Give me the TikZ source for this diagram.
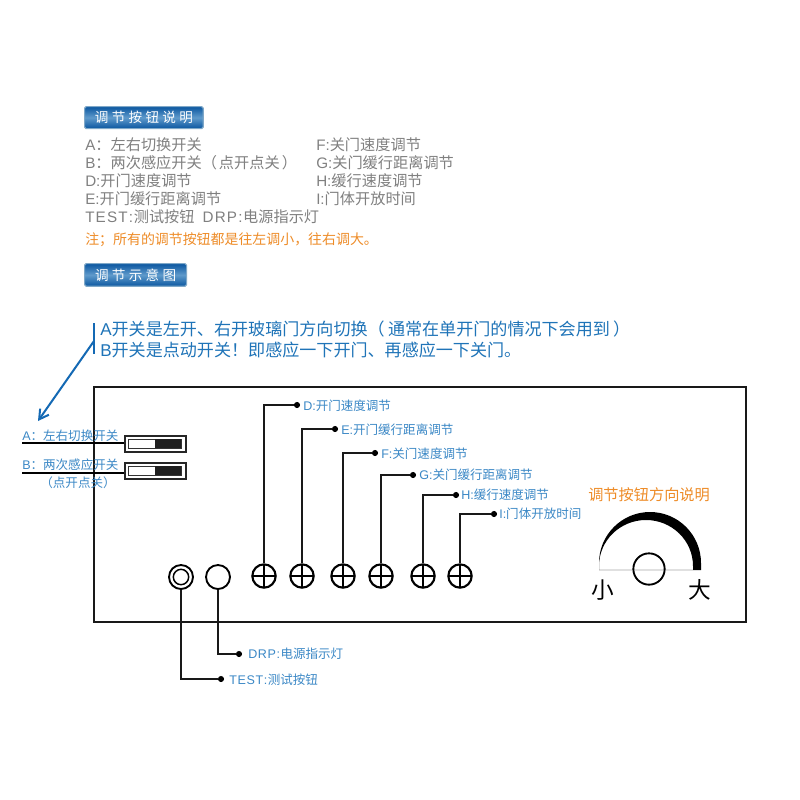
\documentclass[tikz,border=0pt]{standalone}
\usepackage{fontspec}
\setmainfont{Noto Sans CJK SC}
\newfontfamily\ltn{Liberation Sans}
\newfontfamily\hdrfont[LetterSpace=24]{Noto Sans CJK SC}
\newcommand{\LT}[1]{{\ltn #1}}
\newcommand{\TESTW}{{\ltn T\kern.9pt E\kern.9pt S\kern.9pt T\kern.9pt:\kern.5pt}}
\newcommand{\DRPW}{{\ltn D\kern.9pt R\kern.9pt P\kern.9pt:\kern.5pt}}
\newcommand{\TESTS}{{\ltn T\kern.5pt E\kern.5pt S\kern.5pt T\kern.5pt:\kern.3pt}}
\newcommand{\DRPS}{{\ltn D\kern.5pt R\kern.5pt P\kern.5pt:\kern.3pt}}
\usetikzlibrary{arrows.meta}
\definecolor{txtgray}{HTML}{808080}
\definecolor{txtblue}{HTML}{1F74B8}
\definecolor{lblblue}{HTML}{3B88C6}
\definecolor{txtorange}{HTML}{EE8C28}
\definecolor{arrowblue}{HTML}{1469B4}
\definecolor{hdrdark}{HTML}{0A56A0}
\definecolor{hdrmid}{HTML}{5F9ACB}
\definecolor{hdredge}{HTML}{7FA8C8}
\tikzset{
  x=0.75pt,y=-0.75pt,
  wire/.style={line width=1.8pt,black!90},
  headbar/.style={draw=hdredge,line width=0.9pt,rounded corners=1.2pt,anchor=north west,inner sep=0pt,
    top color=hdrdark,bottom color=hdrdark,middle color=hdrmid,
    text=white,font=\hdrfont\fontsize{10.2pt}{10.5pt}\selectfont},
  infotext/.style={anchor=west,inner sep=0pt,text=txtgray,font=\fontsize{11.4pt}{12pt}\selectfont},
  notetext/.style={anchor=west,inner sep=0pt,text=txtorange,font=\fontsize{10.45pt}{12pt}\selectfont},
  bluetext/.style={anchor=west,inner sep=0pt,text=txtblue,font=\fontsize{12.8pt}{14pt}\selectfont},
  lbl/.style={anchor=west,inner sep=0pt,text=lblblue,font=\fontsize{9.4pt}{10pt}\selectfont},
  dotnode/.style={circle,fill=black,inner sep=0pt,minimum size=4.6pt},
  plusbtn/.style={circle,draw=black,line width=1.6pt,fill=white,inner sep=0pt,minimum size=17.5pt,
    path picture={\draw[line width=1.5pt,black] (path picture bounding box.west)--(path picture bounding box.east)
      (path picture bounding box.north)--(path picture bounding box.south);}},
  roundbtn/.style={circle,draw=black,line width=1.4pt,fill=white,inner sep=0pt,minimum size=18pt},
  bigchar/.style={inner sep=0pt,text=black,font=\fontsize{17pt}{18pt}\selectfont},
  swouter/.style={draw=black!85,line width=1.4pt,fill=white,anchor=north west,inner sep=0pt,minimum width=45.5pt,minimum height=12pt},
}
\begin{document}
\begin{tikzpicture}
\useasboundingbox (0,0) rectangle (800,800);
\fill[white] (0,0) rectangle (800,800);

% header bars
\node[headbar,minimum width=89pt,minimum height=16.5pt] (h1) at (84,106) {调节按钮说明};
\node[headbar,minimum width=76.5pt,minimum height=17pt] (h2) at (84,263) {调节示意图};

% info text
\node[infotext] (t1) at (85,145) {\LT{A}：左右切换开关};
\node[infotext] (t2) at (85,163) {\LT{B}：两次感应开关（\kern1.5pt 点开点关\kern1.5pt）};
\node[infotext] (t3) at (85,181) {\LT{D:}开门速度调节};
\node[infotext] (t4) at (85,199) {\LT{E:}开门缓行距离调节};
\node[infotext] (t5) at (85,217) {\TESTW 测试按钮\hspace{6pt}\DRPW 电源指示灯};
\node[notetext] (t6) at (85,240) {注；所有的调节按钮都是往左调小，往右调大。};
\node[infotext] (t7) at (316,145) {\LT{F:}关门速度调节};
\node[infotext] (t8) at (316,163) {\LT{G:}关门缓行距离调节};
\node[infotext] (t9) at (316,181) {\LT{H:}缓行速度调节};
\node[infotext] (t10) at (316,199) {\LT{I:}门体开放时间};

% blue explanation
\node[bluetext] (b1) at (100,329) {\LT{A}开关是左开、右开玻璃门方向切换（\kern2.5pt 通常在单开门的情况下会用到\kern2.5pt）};
\node[bluetext] (b2) at (100,350) {\LT{B}开关是点动开关！即感应一下开门、再感应一下关门。};
\coordinate (barT) at (94,323);
\coordinate (barB) at (94,354);
\coordinate (arrS) at (94,341);
\coordinate (arrE) at (38,421);
\draw[arrowblue,line width=1.4pt] (barT)--(barB);
\draw[arrowblue,line width=1.5pt,-{Straight Barb[length=7pt,width=8pt]}] (arrS)--(arrE);

% panel
\node[draw=black!90,line width=1.8pt,anchor=north west,inner sep=0pt,minimum width=489pt,minimum height=176pt] (panel) at (93,386) {};

% switches
\node[swouter] (swA) at (124,435) {};
\node[swouter] (swB) at (124,462) {};
\foreach \y in {439,466}{
  \draw[black!80,line width=0.5pt] (128,\y) rectangle (181,\y+9);
  \fill[black!88] (155,\y) rectangle (181,\y+9);
}
\coordinate (la) at (22,443);
\coordinate (lb) at (22,473);
\coordinate (swAw) at (124,443);
\coordinate (swBw) at (124,473);
\draw[black,line width=1.1pt] (la)--(swAw);
\draw[black,line width=1.1pt] (lb)--(swBw);
\node[lbl,text=lblblue] (la1) at (22,436) {\LT{A}：左右切换开关};
\node[lbl,text=lblblue] (lb1) at (22,465) {\LT{B}：两次感应开关};
\node[lbl,anchor=center] (lb2) at (78,483) {（点开点关）};

% buttons
\node[plusbtn] (bD) at (264,576) {};
\node[plusbtn] (bE) at (302,576) {};
\node[plusbtn] (bF) at (343,576) {};
\node[plusbtn] (bG) at (381,576) {};
\node[plusbtn] (bH) at (423,576) {};
\node[plusbtn] (bI) at (460,576) {};
\node[dotnode] (dD) at (297,405) {};
\node[dotnode] (dE) at (335,429) {};
\node[dotnode] (dF) at (375,453) {};
\node[dotnode] (dG) at (413,475) {};
\node[dotnode] (dH) at (456,495) {};
\node[dotnode] (dI) at (494,514) {};
\draw[wire] (dD) -| (bD);
\draw[wire] (dE) -| (bE);
\draw[wire] (dF) -| (bF);
\draw[wire] (dG) -| (bG);
\draw[wire] (dH) -| (bH);
\draw[wire] (dI) -| (bI);
\node[lbl] (lD) at (303,406) {\LT{D:}开门速度调节};
\node[lbl] (lE) at (341,430) {\LT{E:}开门缓行距离调节};
\node[lbl] (lF) at (381,454) {\LT{F:}关门速度调节};
\node[lbl] (lG) at (419,475) {\LT{G:}关门缓行距离调节};
\node[lbl] (lH) at (461,495) {\LT{H:}缓行速度调节};
\node[lbl] (lI) at (499,514) {\LT{I:}门体开放时间};

% test and power
\node[roundbtn] (btnT) at (181,577) {};
\node[circle,draw=black,line width=1.1pt,inner sep=0pt,minimum size=11.5pt] (btnTi) at (181,577) {};
\node[roundbtn] (btnP) at (218,577) {};
\node[dotnode] (dP) at (239,654) {};
\node[dotnode] (dT) at (221,679) {};
\draw[wire] (dP) -| (btnP);
\draw[wire] (dT) -| (btnT);
\node[lbl] (lP) at (248,654) {\DRPS 电源指示灯};
\node[lbl] (lT) at (229,680) {\TESTS 测试按钮};

% direction gauge
\node[anchor=west,inner sep=0pt,text=txtorange,font=\fontsize{11.4pt}{12pt}\selectfont] (gt) at (588,495) {调节按钮方向说明};
\draw[black!12,line width=0.8pt] (599,570)--(693,570);
\fill[black] (701,570) -- (701,563) arc[start angle=0,end angle=-180,radius=51] -- (599,570)
  -- (599,566) arc[start angle=-180,end angle=0,x radius=47,y radius=46] -- (693,570) -- cycle;
\node[circle,draw=black,line width=1.4pt,inner sep=0pt,minimum size=23.5pt] (gc) at (649,569) {};
\node[bigchar] (gs) at (603,590) {小};
\node[bigchar] (gb) at (700,590) {大};
\end{tikzpicture}
\end{document}
